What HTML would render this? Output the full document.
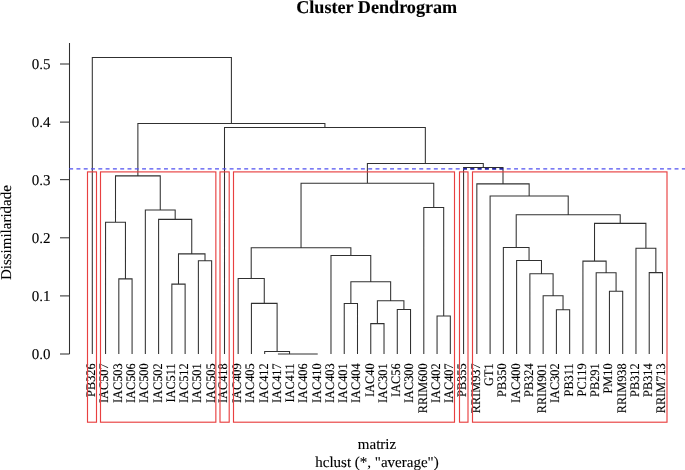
<!DOCTYPE html>
<html><head><meta charset="utf-8"><style>
html,body{margin:0;padding:0;background:#fff;overflow:hidden}
svg{display:block;will-change:transform}
text{font-family:"Liberation Serif",serif;fill:#000;stroke:#000;stroke-width:0.12px;text-rendering:geometricPrecision}
</style></head><body>
<svg width="685" height="470" viewBox="0 0 685 470">
<rect width="685" height="470" fill="#fff"/>
<text x="376.7" y="12.9" text-anchor="middle" font-weight="bold" font-size="18.15">Cluster Dendrogram</text>
<g stroke="#303030" stroke-width="1.05" fill="none">
<path d="M69.5 43V354.0"/>
<path d="M60 354.0H69.5"/>
<path d="M60 295.9H69.5"/>
<path d="M60 237.8H69.5"/>
<path d="M60 179.65H69.5"/>
<path d="M60 122.1H69.5"/>
<path d="M60 64.0H69.5"/>
</g>
<g font-size="15">
<text x="50.6" y="359.3" text-anchor="end">0.0</text>
<text x="50.6" y="301.2" text-anchor="end">0.1</text>
<text x="50.6" y="243.1" text-anchor="end">0.2</text>
<text x="50.6" y="185.0" text-anchor="end">0.3</text>
<text x="50.6" y="127.4" text-anchor="end">0.4</text>
<text x="50.6" y="69.3" text-anchor="end">0.5</text>
</g>
<text transform="translate(11.1,232.6) rotate(-90)" text-anchor="middle" font-size="15">Dissimilaridade</text>
<text x="377" y="448.6" text-anchor="middle" font-size="15">matriz</text>
<text x="377" y="466.8" text-anchor="middle" font-size="15">hclust (*, "average")</text>
<g stroke="#303030" stroke-width="1.05" fill="none">
<path d="M118.82 354.00V278.85H132.08V354.00 M105.56 354.00V222.15H125.45V278.85 M171.86 354.00V284.10H185.12V354.00 M198.38 354.00V260.70H211.64V354.00 M178.49 284.10V253.85H205.01V260.70 M158.60 354.00V219.35H191.75V253.85 M145.34 354.00V210.05H175.18V219.35 M115.50 222.15V175.85H160.26V210.05 M304.46 354.00V354.00H317.72V354.00 M291.20 354.00V354.00H311.09V354.00 M277.94 354.00V354.00H301.14V354.00 M264.68 354.00V351.50H289.54V354.00 M251.42 354.00V303.35H277.11V351.50 M238.16 354.00V278.50H264.27V303.35 M344.24 354.00V303.55H357.50V354.00 M370.76 354.00V323.60H384.02V354.00 M397.28 354.00V309.45H410.54V354.00 M377.39 323.60V300.75H403.91V309.45 M350.87 303.55V281.65H390.65V300.75 M330.98 354.00V255.55H370.76V281.65 M251.21 278.50V247.75H350.87V255.55 M437.06 354.00V315.95H450.32V354.00 M423.80 354.00V207.55H443.69V315.95 M301.04 247.75V183.25H433.75V207.55 M556.40 354.00V309.75H569.66V354.00 M543.14 354.00V295.75H563.03V309.75 M529.88 354.00V273.75H553.09V295.75 M516.62 354.00V260.50H541.48V273.75 M503.36 354.00V247.50H529.05V260.50 M609.44 354.00V291.15H622.70V354.00 M596.18 354.00V272.75H616.07V291.15 M582.92 354.00V261.10H606.12V272.75 M649.22 354.00V272.60H662.48V354.00 M635.96 354.00V248.20H655.85V272.60 M594.52 261.10V223.35H645.90V248.20 M516.21 247.50V214.75H620.21V223.35 M490.10 354.00V196.05H568.21V214.75 M476.84 354.00V183.85H529.15V196.05 M463.58 354.00V167.50H503.00V183.85 M367.39 183.25V163.40H483.29V167.50 M224.50 354.00V127.50H425.34V163.40 M137.88 175.85V123.50H324.92V127.50 M92.30 354.00V57.50H231.40V123.50"/>
</g>
<g font-size="12.3" text-anchor="end">
<text transform="translate(95.20,363.4) rotate(-90) scale(1,1.06)">PB326</text>
<text transform="translate(108.46,363.4) rotate(-90) scale(1,1.06)">IAC507</text>
<text transform="translate(121.72,363.4) rotate(-90) scale(1,1.06)">IAC503</text>
<text transform="translate(134.98,363.4) rotate(-90) scale(1,1.06)">IAC506</text>
<text transform="translate(148.24,363.4) rotate(-90) scale(1,1.06)">IAC500</text>
<text transform="translate(161.50,363.4) rotate(-90) scale(1,1.06)">IAC502</text>
<text transform="translate(174.76,363.4) rotate(-90) scale(1,1.06)">IAC511</text>
<text transform="translate(188.02,363.4) rotate(-90) scale(1,1.06)">IAC512</text>
<text transform="translate(201.28,363.4) rotate(-90) scale(1,1.06)">IAC501</text>
<text transform="translate(214.54,363.4) rotate(-90) scale(1,1.06)">IAC505</text>
<text transform="translate(227.40,363.4) rotate(-90) scale(1,1.06)">IAC418</text>
<text transform="translate(241.06,363.4) rotate(-90) scale(1,1.06)">IAC409</text>
<text transform="translate(254.32,363.4) rotate(-90) scale(1,1.06)">IAC405</text>
<text transform="translate(267.58,363.4) rotate(-90) scale(1,1.06)">IAC412</text>
<text transform="translate(280.84,363.4) rotate(-90) scale(1,1.06)">IAC417</text>
<text transform="translate(294.10,363.4) rotate(-90) scale(1,1.06)">IAC411</text>
<text transform="translate(307.36,363.4) rotate(-90) scale(1,1.06)">IAC406</text>
<text transform="translate(320.62,363.4) rotate(-90) scale(1,1.06)">IAC410</text>
<text transform="translate(333.88,363.4) rotate(-90) scale(1,1.06)">IAC403</text>
<text transform="translate(347.14,363.4) rotate(-90) scale(1,1.06)">IAC401</text>
<text transform="translate(360.40,363.4) rotate(-90) scale(1,1.06)">IAC404</text>
<text transform="translate(373.66,363.4) rotate(-90) scale(1,1.06)">IAC40</text>
<text transform="translate(386.92,363.4) rotate(-90) scale(1,1.06)">IAC301</text>
<text transform="translate(400.18,363.4) rotate(-90) scale(1,1.06)">IAC56</text>
<text transform="translate(413.44,363.4) rotate(-90) scale(1,1.06)">IAC300</text>
<text transform="translate(426.70,363.4) rotate(-90) scale(1,1.06)">RRIM600</text>
<text transform="translate(439.96,363.4) rotate(-90) scale(1,1.06)">IAC402</text>
<text transform="translate(453.22,363.4) rotate(-90) scale(1,1.06)">IAC407</text>
<text transform="translate(466.48,363.4) rotate(-90) scale(1,1.06)">PB355</text>
<text transform="translate(479.74,363.4) rotate(-90) scale(1,1.06)">RRIM937</text>
<text transform="translate(493.00,363.4) rotate(-90) scale(1,1.06)">GT1</text>
<text transform="translate(506.26,363.4) rotate(-90) scale(1,1.06)">PB350</text>
<text transform="translate(519.52,363.4) rotate(-90) scale(1,1.06)">IAC400</text>
<text transform="translate(532.78,363.4) rotate(-90) scale(1,1.06)">PB324</text>
<text transform="translate(546.04,363.4) rotate(-90) scale(1,1.06)">RRIM901</text>
<text transform="translate(559.30,363.4) rotate(-90) scale(1,1.06)">IAC302</text>
<text transform="translate(572.56,363.4) rotate(-90) scale(1,1.06)">PB311</text>
<text transform="translate(585.82,363.4) rotate(-90) scale(1,1.06)">PC119</text>
<text transform="translate(599.08,363.4) rotate(-90) scale(1,1.06)">PB291</text>
<text transform="translate(612.34,363.4) rotate(-90) scale(1,1.06)">PM10</text>
<text transform="translate(625.60,363.4) rotate(-90) scale(1,1.06)">RRIM938</text>
<text transform="translate(638.86,363.4) rotate(-90) scale(1,1.06)">PB312</text>
<text transform="translate(652.12,363.4) rotate(-90) scale(1,1.06)">PB314</text>
<text transform="translate(665.38,363.4) rotate(-90) scale(1,1.06)">RRIM713</text>
</g>
<g stroke="rgb(232,64,64)" stroke-width="1.15" fill="none">
<rect x="87.50" y="171.9" width="9.00" height="250.30"/>
<rect x="100.50" y="171.9" width="115.35" height="250.30"/>
<rect x="220.00" y="171.9" width="9.20" height="250.30"/>
<rect x="233.50" y="171.9" width="221.00" height="250.30"/>
<rect x="459.50" y="171.9" width="8.50" height="250.30"/>
<rect x="472.50" y="171.9" width="194.50" height="250.30"/>
</g>
<path d="M69.15 168.8H685" stroke="rgb(80,80,240)" stroke-width="1.2" stroke-dasharray="3.95 3.344" fill="none"/>
<path d="M69.15 168.8H685" stroke="rgb(10,10,130)" stroke-width="1.2" stroke-dasharray="3.95 3.344" fill="none" clip-path="url(#fclip)"/>
<defs><clipPath id="fclip"><rect x="463.6" y="160" width="39.6" height="20"/></clipPath></defs>
</svg>
</body></html>
